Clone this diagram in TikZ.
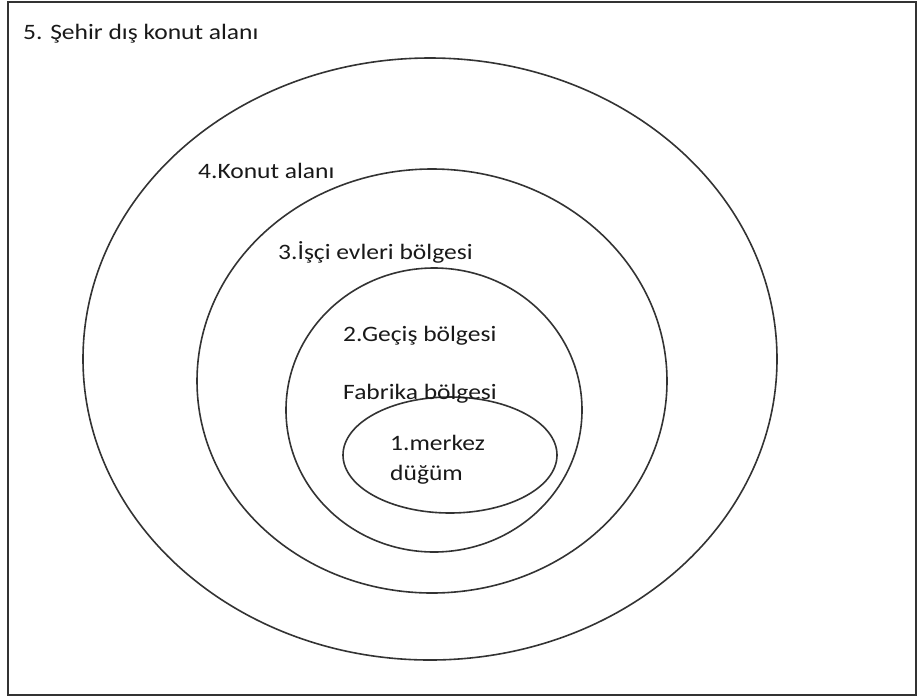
\documentclass[tikz,border=0pt]{standalone}
\usepackage{fontspec}
\setmainfont{Carlito}[FakeStretch=1.16]
\begin{document}
\begin{tikzpicture}[x=1pt,y=-1pt,
  ring/.style={draw=black!80,line width=1.6pt},
  frame/.style={draw=black!80,line width=2pt},
  lbl/.style={anchor=base west,inner sep=0pt,font=\fontsize{22}{26}\selectfont,text=black!90}]
\useasboundingbox (0,0) rectangle (918,697);
\draw[frame] (8,2) rectangle (916,695);
\draw[ring] (430,359) ellipse [x radius=347, y radius=301];
\draw[ring] (432,381) ellipse [x radius=235, y radius=212];
\draw[ring] (434,410) ellipse [x radius=148, y radius=142];
\draw[ring] (450,455) ellipse [x radius=107, y radius=58];
\node[lbl] (t5) at (23,39) {5. Şehir dış konut alanı};
\node[lbl] (t4) at (198,178) {4.Konut alanı};
\node[lbl] (t3) at (278,259) {3.İşçi evleri bölgesi};
\node[lbl] (t2) at (343,341) {2.Geçiş bölgesi};
\node[lbl] (tf) at (343,399) {Fabrika bölgesi};
\node[lbl] (t1a) at (390,450) {1.merkez};
\node[lbl] (t1b) at (390,480) {düğüm};
\end{tikzpicture}
\end{document}
